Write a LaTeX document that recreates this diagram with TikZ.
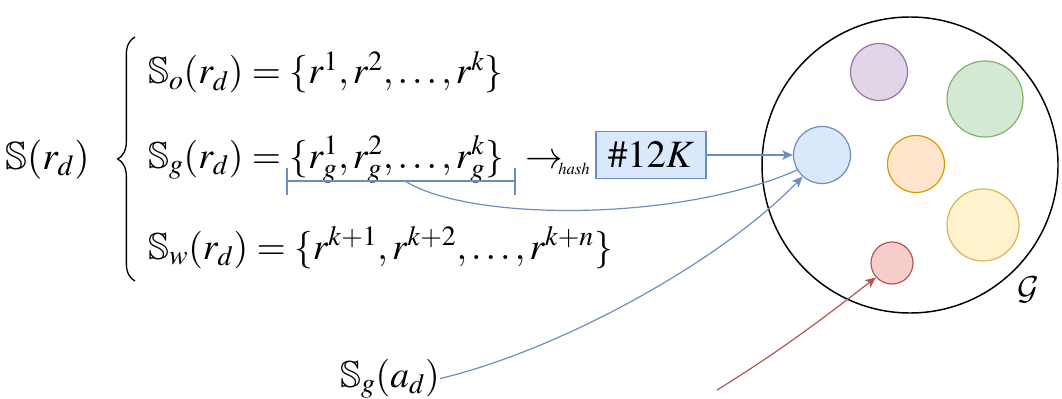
\documentclass[tikz,border=0pt]{standalone}
\usepackage{mathptmx}
\usepackage{amssymb}
\DeclareMathAlphabet{\mathcal}{OMS}{cmsy}{m}{n}
\usetikzlibrary{arrows.meta,decorations.pathreplacing}
\definecolor{bstroke}{HTML}{6C8EBF}
\definecolor{bfill}{HTML}{DAE8FC}
\definecolor{rstroke}{HTML}{B85450}
\definecolor{rfill}{HTML}{F8CECC}
\definecolor{pstroke}{HTML}{9673A6}
\definecolor{pfill}{HTML}{E1D5E7}
\definecolor{gstroke}{HTML}{82B366}
\definecolor{gfill}{HTML}{D5E8D4}
\definecolor{ostroke}{HTML}{D79B00}
\definecolor{ofill}{HTML}{FFE6CC}
\definecolor{ystroke}{HTML}{D6B656}
\definecolor{yfill}{HTML}{FFF2CC}
\tikzset{
  px/.style={minimum size=#1*0.75pt},
  blob/.style={circle,inner sep=0pt,line width=0.9pt},
  eq/.style={anchor=base west,inner sep=0pt},
  conn/.style={line width=0.9pt},
  tip/.style={-{Stealth[length=8pt,width=7pt,inset=2pt]}},
}
\begin{document}
\begin{tikzpicture}[x=0.75pt,y=-0.75pt,font=\fontsize{28.2}{32}\selectfont]
\useasboundingbox (0,0) rectangle (1062,399);
% left text
\node[eq,font=\fontsize{29.5}{33}\selectfont] (S) at (5,169) {$\mathbb{S}(r_d)$};
\coordinate (bb) at (135,281);
\coordinate (bt) at (135,37);
\draw[line width=1pt,decorate,decoration={brace,amplitude=13pt}] (bb) -- (bt);
\node[eq] (L1) at (148,84) {$\mathbb{S}_o(r_d) = \{r^1, r^2, \dots, r^k\}$};
\node[eq] (L2) at (148,168) {$\mathbb{S}_g(r_d) = \{r_g^1, r_g^2, \dots, r_g^k\}$};
\node[eq] (arr) at (525,168) {$\rightarrow$};
\node[eq,font=\fontsize{12.5}{14}\selectfont] (hash) at (558,174) {$hash$};
\node[eq] (L3) at (148,259) {$\mathbb{S}_w(r_d) = \{r^{k+1}, r^{k+2}, \dots, r^{k+n}\}$};
\node[draw=bstroke,fill=bfill,line width=0.9pt,minimum width=110*0.75pt,minimum height=47*0.75pt,inner sep=0pt,font=\fontsize{29}{32}\selectfont] (box) at (651,155) {$\#12K$};
% bracket
\coordinate (k1) at (287,181);
\coordinate (k2) at (515,181);
\coordinate (km) at (405,181);
\draw[conn,bstroke] (287,168) -- (287,195);
\draw[conn,bstroke] (515,168) -- (515,195);
\draw[conn,bstroke] (k1) -- (k2);
% big circle
\node[circle,draw,line width=1.1pt,inner sep=0pt,px=296] (G) at (910,165) {};
\node (Glab) at (1028,290) {$\mathcal{G}$};
% small circles
\node[blob,draw=pstroke,fill=pfill,px=57] (purple) at (879,72) {};
\node[blob,draw=gstroke,fill=gfill,px=76] (green) at (985,99) {};
\node[blob,draw=bstroke,fill=bfill,px=57] (blue) at (822,155) {};
\node[blob,draw=ostroke,fill=ofill,px=57] (orange) at (916,164) {};
\node[blob,draw=ystroke,fill=yfill,px=72] (yellow) at (983,225) {};
\node[blob,draw=rstroke,fill=rfill,px=42] (red) at (892,263) {};
% bottom labels
\node[eq] (Sa) at (340,387) {$\mathbb{S}_g(a_d)$};
\coordinate (rs) at (717,390);
% connectors
\draw[conn,bstroke,tip] (box.east) -- (blue.west);
\draw[conn,bstroke] (km) .. controls (470,222) and (680,222) .. (blue.211);
\draw[conn,bstroke,tip] (Sa.east) .. controls (560,350) and (720,262) .. (blue.228);
\draw[conn,rstroke,tip] (rs) .. controls (790,345) and (840,305) .. (red.222);
\end{tikzpicture}
\end{document}
